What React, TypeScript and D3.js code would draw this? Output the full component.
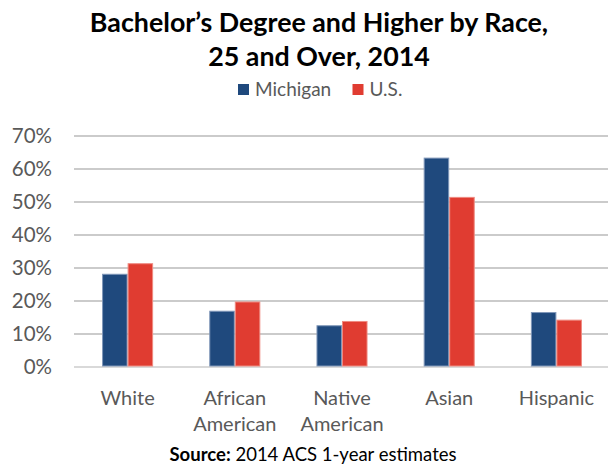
import React from "react";
import * as d3 from "d3";

const categories = [["White"], ["African", "American"], ["Native", "American"], ["Asian"], ["Hispanic"]];
const seriesNames = ["Michigan", "U.S."];
const michigan = [0.281, 0.169, 0.125, 0.633, 0.165];
const us = [0.313, 0.197, 0.138, 0.514, 0.142];
const yTicks = [0, 0.1, 0.2, 0.3, 0.4, 0.5, 0.6, 0.7];
const colors = ["#1F497D", "#E03C31"];
const strokes = ["#7f96b8", "#ef8a80"];

const FONT = "Lato, 'Open Sans', sans-serif";

export default function App() {
  const W = 608, H = 467;
  const keys = categories.map((c) => c.join(" "));
  const x0 = d3.scaleBand<string>().domain(keys).range([74, 610]).paddingInner(0).paddingOuter(0);
  const x1 = d3.scaleBand<string>().domain(seriesNames).range([0, x0.bandwidth()]).paddingInner(0).paddingOuter(1.1);
  const y = d3.scaleLinear().domain([0, 0.7]).range([367, 136]);
  const fmt = d3.format(".0%");
  const values = [michigan, us];

  return (
    <svg width={W} height={H} style={{ position: "absolute", left: 0, top: 0, background: "#fff" }} fontFamily={FONT}>
      <rect width={W} height={H} fill="#fff" />
      <text x={319} y={32} textAnchor="middle" fontSize={26.8} fontWeight={700} fill="#000">Bachelor’s Degree and Higher by Race,</text>
      <text x={319} y={65.5} textAnchor="middle" fontSize={26.8} fontWeight={700} fill="#000">25 and Over, 2014</text>

      {seriesNames.map((s, i) => {
        const lx = i === 0 ? 238 : 352.5;
        return (
          <g key={s}>
            <rect x={lx} y={84} width={11} height={11} fill={colors[i]} />
            <text x={lx + 17} y={96} fontSize={19} fill="#595959">{s}</text>
          </g>
        );
      })}

      {yTicks.map((t) => (
        <g key={t}>
          <line x1={74} x2={610} y1={y(t)} y2={y(t)} stroke={t === 0 ? "#d9d9d9" : "#979797"} strokeWidth={t === 0 ? 2 : 1.2} />
          <text x={52} y={y(t) + 7} textAnchor="end" fontSize={20.5} fill="#595959">{fmt(t)}</text>
        </g>
      ))}

      {keys.map((k, ci) => (
        <g key={k} transform={`translate(${x0(k)},0)`}>
          {seriesNames.map((s, si) => {
            const v = values[si][ci];
            return (
              <rect key={s} x={x1(s)! + 0.5} y={y(v)} width={x1.bandwidth() - 1} height={y(0) - y(v) - 1}
                fill={colors[si]} stroke={strokes[si]} strokeWidth={1} />
            );
          })}
        </g>
      ))}

      {categories.map((lines, ci) => {
        const cx = x0(keys[ci])! + x0.bandwidth() / 2;
        return (
          <text key={keys[ci]} x={cx} textAnchor="middle" fontSize={20} fill="#595959">
            {lines.map((l, li) => (
              <tspan key={l + li} x={cx} y={405 + li * 26}>{l}</tspan>
            ))}
          </text>
        );
      })}

      <text x={313} y={461} textAnchor="middle" fontSize={18.5} fill="#000">
        <tspan fontWeight={700}>Source:</tspan> 2014 ACS 1-year estimates
      </text>
    </svg>
  );
}
